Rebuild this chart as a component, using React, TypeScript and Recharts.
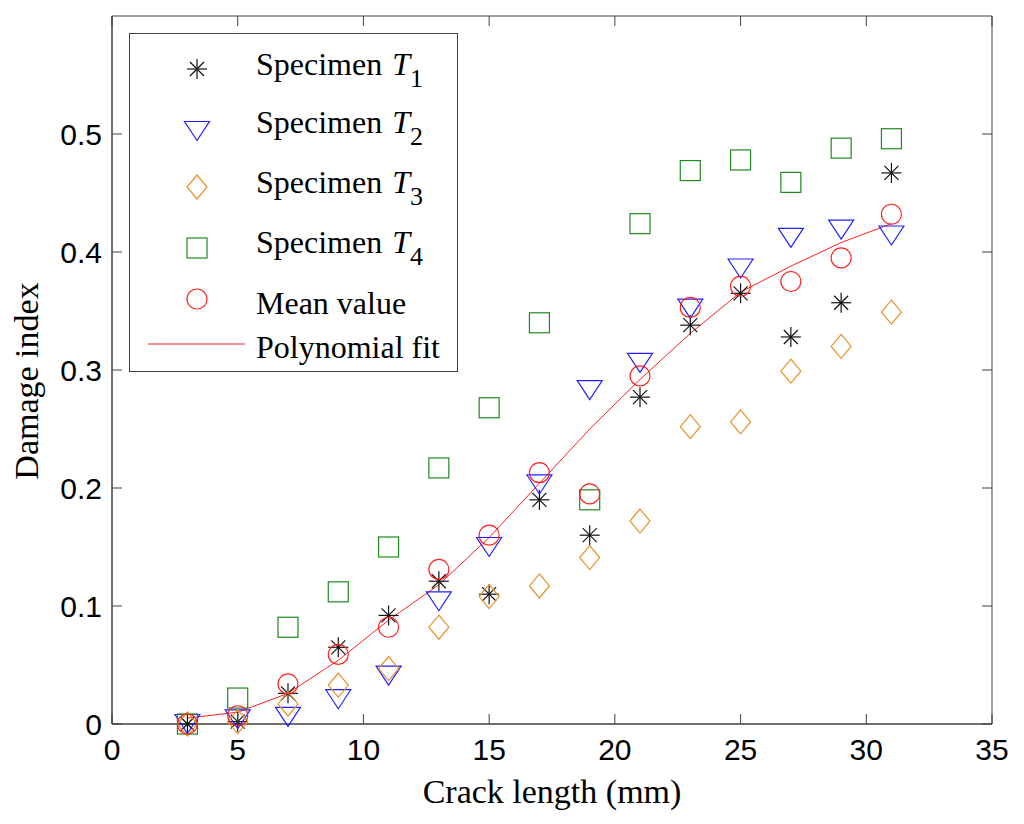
import { ComposedChart, Scatter, Line, XAxis, YAxis, Legend, ReferenceArea } from "recharts"

// crack length (mm) at each measurement
const crackLength = [3, 5, 7, 9, 11, 13, 15, 17, 19, 21, 23, 25, 27, 29, 31]

// damage index per specimen
const specimenT1 = [0, 0.002, 0.026, 0.065, 0.092, 0.121, 0.11, 0.19, 0.16, 0.277, 0.338, 0.365, 0.328, 0.357, 0.467]
const specimenT2 = [0, 0.004, 0.006, 0.021, 0.041, 0.104, 0.15, 0.203, 0.283, 0.306, 0.352, 0.386, 0.412, 0.419, 0.414]
const specimenT3 = [0, 0.002, 0.017, 0.033, 0.047, 0.082, 0.108, 0.117, 0.141, 0.172, 0.252, 0.256, 0.299, 0.32, 0.349]
const specimenT4 = [0, 0.022, 0.082, 0.112, 0.15, 0.217, 0.268, 0.34, 0.19, 0.424, 0.469, 0.478, 0.459, 0.488, 0.496]
const meanValue = [0, 0.007, 0.034, 0.059, 0.082, 0.131, 0.16, 0.213, 0.195, 0.295, 0.353, 0.371, 0.375, 0.395, 0.432]

// polynomial fit curve
const fitLength = [3, 5, 7, 9, 11, 13, 15, 17, 19, 21, 23, 25, 27, 29, 31]
const fitValue = [0.005, 0.01, 0.026, 0.054, 0.088, 0.118, 0.158, 0.204, 0.25, 0.292, 0.331, 0.366, 0.388, 0.408, 0.424]

const xTicks = [0, 5, 10, 15, 20, 25, 30, 35]
const yTicks = [0, 0.1, 0.2, 0.3, 0.4, 0.5]

const legendLabels = ["Specimen ", "Specimen ", "Specimen ", "Specimen ", "Mean value", "Polynomial fit"]
const legendSubs = ["1", "2", "3", "4", "", ""]

const AXIS = "#404040"
const BLACK = "#111111"
const BLUE = "#2020ff"
const ORANGE = "#e8912a"
const GREEN = "#1f8a1f"
const RED = "#ff2020"
const SERIF = "'Liberation Serif', 'Times New Roman', serif"
const SANS = "'Liberation Sans', Arial, sans-serif"

// chart box (chart coordinates)
const WIDTH = 1008
const HEIGHT = 808
const MARGIN = { top: 8, right: 24, bottom: 32, left: 0 }
const PLOT_TOP = MARGIN.top
const PLOT_RIGHT = WIDTH - MARGIN.right

const toPoints = (xs: number[], ys: number[]) => xs.map((x, i) => ({ x, y: ys[i] }))

function Marker({ kind, cx, cy }: { kind: string; cx: number; cy: number }) {
  if (kind === "asterisk") {
    return (
      <g stroke={BLACK} strokeWidth={1.2}>
        <line x1={cx - 10} y1={cy} x2={cx + 10} y2={cy} />
        <line x1={cx} y1={cy - 10} x2={cx} y2={cy + 10} />
        <line x1={cx - 7} y1={cy - 7} x2={cx + 7} y2={cy + 7} />
        <line x1={cx - 7} y1={cy + 7} x2={cx + 7} y2={cy - 7} />
      </g>
    )
  }
  if (kind === "triangle") {
    return (
      <polygon
        points={`${cx - 12.5},${cy - 9.5} ${cx + 12.5},${cy - 9.5} ${cx},${cy + 9.5}`}
        fill="none"
        stroke={BLUE}
        strokeWidth={1.2}
      />
    )
  }
  if (kind === "diamond") {
    return (
      <polygon
        points={`${cx},${cy - 12} ${cx + 10},${cy} ${cx},${cy + 12} ${cx - 10},${cy}`}
        fill="none"
        stroke={ORANGE}
        strokeWidth={1.2}
      />
    )
  }
  if (kind === "square") {
    return <rect x={cx - 10} y={cy - 10} width={20} height={20} fill="none" stroke={GREEN} strokeWidth={1.2} />
  }
  return <circle cx={cx} cy={cy} r={10} fill="none" stroke={RED} strokeWidth={1.2} />
}

const shapeOf = (kind: string) => (props: any) => <Marker kind={kind} cx={props.cx} cy={props.cy} />

// bottom tick label plus inward tick marks on bottom and top edges
const XTick = (props: any) => {
  const { x, y, payload } = props
  return (
    <g>
      <line x1={x} y1={y} x2={x} y2={y - 10} stroke={AXIS} />
      <line x1={x} y1={PLOT_TOP} x2={x} y2={PLOT_TOP + 10} stroke={AXIS} />
      <text x={x} y={y + 36} textAnchor="middle" fontFamily={SANS} fontSize={30} fill="#000">
        {payload.value}
      </text>
    </g>
  )
}

// left tick label plus inward tick marks on left and right edges
const YTick = (props: any) => {
  const { x, y, payload } = props
  return (
    <g>
      <line x1={x} y1={y} x2={x + 10} y2={y} stroke={AXIS} />
      <line x1={PLOT_RIGHT} y1={y} x2={PLOT_RIGHT - 10} y2={y} stroke={AXIS} />
      <text x={x - 10} y={y + 11} textAnchor="end" fontFamily={SANS} fontSize={30} fill="#000">
        {payload.value}
      </text>
    </g>
  )
}

const legendKinds = ["asterisk", "triangle", "diamond", "square", "circle", "line"]
const markerY = [35, 97, 153, 214, 265, 310]
const baselineY = [41, 99, 159, 219, 280, 324]

function LegendBox() {
  return (
    <div style={{ width: 329, height: 339, border: `1.5px solid ${AXIS}`, background: "#fff", boxSizing: "border-box" }}>
      <svg width={326} height={336} style={{ display: "block" }}>
        {legendKinds.map((kind, i) =>
          kind === "line" ? (
            <line key={kind} x1={18} y1={markerY[i]} x2={115} y2={markerY[i]} stroke={RED} strokeWidth={1} />
          ) : (
            <Marker key={kind} kind={kind} cx={67} cy={markerY[i]} />
          )
        )}
        {legendLabels.map((label, i) => (
          <text key={i} x={126} y={baselineY[i]} fontFamily={SERIF} fontSize={32} fill="#000">
            {label}
            {legendSubs[i] && (
              <>
                <tspan fontStyle="italic" dx={2}>T</tspan>
                <tspan fontSize={26} dy={12}>{legendSubs[i]}</tspan>
              </>
            )}
          </text>
        ))}
      </svg>
    </div>
  )
}

export default function App() {
  return (
    <ComposedChart width={WIDTH} height={HEIGHT} margin={MARGIN}>
      <ReferenceArea x1={0} x2={35} y1={0} y2={0.6} fill="none" stroke={AXIS} strokeWidth={1} fillOpacity={0} />
      <XAxis
        dataKey="x"
        type="number"
        domain={[0, 35]}
        ticks={xTicks}
        interval={0}
        height={60}
        stroke={AXIS}
        tickLine={false}
        tickSize={0}
        tickMargin={0}
        tick={XTick}
        label={{
          content: (p: any) => (
            <text
              x={p.viewBox.x + p.viewBox.width / 2}
              y={p.viewBox.y + 79}
              textAnchor="middle"
              fontFamily={SERIF}
              fontSize={34}
              fill="#000"
            >
              Crack length (mm)
            </text>
          ),
        }}
      />
      <YAxis
        dataKey="y"
        type="number"
        domain={[0, 0.6]}
        ticks={yTicks}
        interval={0}
        width={104}
        stroke={AXIS}
        tickLine={false}
        tickSize={0}
        tickMargin={0}
        tick={YTick}
        label={{
          content: () => (
            <text
              transform="translate(30, 373) rotate(-90)"
              textAnchor="middle"
              fontFamily={SERIF}
              fontSize={34}
              fill="#000"
            >
              Damage index
            </text>
          ),
        }}
      />
      <Legend
        content={() => <LegendBox />}
        layout="vertical"
        align="center"
        verticalAlign="middle"
        wrapperStyle={{ left: 121, top: 25, width: 329, height: 339 }}
      />
      <Scatter name="T1" data={toPoints(crackLength, specimenT1)} dataKey="y" shape={shapeOf("asterisk")} isAnimationActive={false} />
      <Scatter name="T2" data={toPoints(crackLength, specimenT2)} dataKey="y" shape={shapeOf("triangle")} isAnimationActive={false} />
      <Scatter name="T3" data={toPoints(crackLength, specimenT3)} dataKey="y" shape={shapeOf("diamond")} isAnimationActive={false} />
      <Scatter name="T4" data={toPoints(crackLength, specimenT4)} dataKey="y" shape={shapeOf("square")} isAnimationActive={false} />
      <Scatter name="Mean value" data={toPoints(crackLength, meanValue)} dataKey="y" shape={shapeOf("circle")} isAnimationActive={false} />
      <Line
        name="Polynomial fit"
        data={toPoints(fitLength, fitValue)}
        dataKey="y"
        type="linear"
        stroke={RED}
        strokeWidth={1}
        dot={false}
        activeDot={false}
        isAnimationActive={false}
      />
    </ComposedChart>
  )
}
